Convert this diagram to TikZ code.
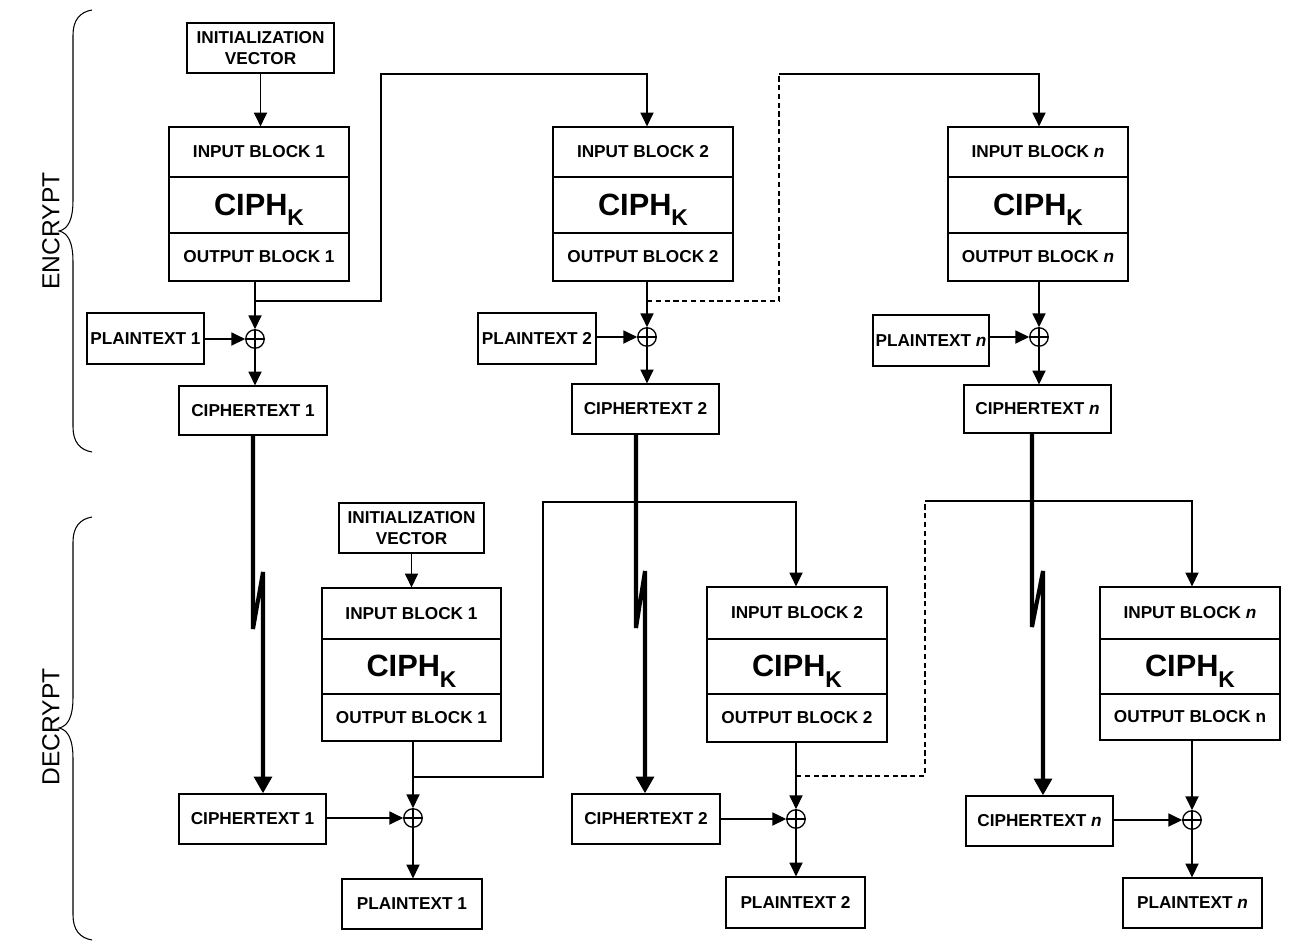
\documentclass[tikz,border=0pt]{standalone}
\usepackage{fontspec}
\setmainfont{Liberation Sans}
\usetikzlibrary{arrows.meta}
\newcommand\ciphk{CIPH\raisebox{-6pt}{\fontsize{13}{13}\selectfont K}}
\begin{document}
\begin{tikzpicture}[x=0.02cm,y=-0.02cm,
  box/.style={draw, line width=0.75pt, inner sep=0pt, align=center, font=\bfseries\fontsize{9.8}{11.8}\selectfont},
  ciph/.style={draw, line width=0.75pt, inner sep=0pt, text height=13pt, text depth=1.6pt, font=\bfseries\fontsize{17.5}{18}\selectfont},
  sz/.style 2 args={minimum width=#1*0.02cm, minimum height=#2*0.02cm},
  xorc/.style={circle, draw, line width=0.75pt, minimum size=0.37cm, inner sep=0pt,
    path picture={\draw[line width=0.75pt] (path picture bounding box.north) -- (path picture bounding box.south)
      (path picture bounding box.west) -- (path picture bounding box.east);}},
  arr/.style={line width=0.7pt, -{Triangle[length=7.8pt,width=7.5pt]}},
  ln/.style={line width=0.7pt},
  dln/.style={line width=0.7pt, dash pattern=on 3pt off 2pt},
  bigarr/.style={line width=2.3pt, -{Triangle[length=9.5pt,width=10pt]}},
  brace/.style={line width=0.6pt},
  side/.style={rotate=90, font=\fontsize{14}{16}\selectfont}
]
\useasboundingbox (0,0) rectangle (1295,950);

% ---------- side labels and braces ----------
\node[side] (enc) at (51,231) {ENCRYPT};
\node[side] (dec) at (51,727) {DECRYPT};
\draw[brace] (92,10) .. controls (80,12) and (73,20) .. (73,35) -- (73,200)
  .. controls (73,220) and (68,229) .. (59,231) .. controls (68,233) and (73,242) .. (73,262)
  -- (73,427) .. controls (73,442) and (80,450) .. (92,452);
\draw[brace] (92,517) .. controls (80,519) and (73,527) .. (73,542) -- (73,697)
  .. controls (73,717) and (68,726) .. (59,728) .. controls (68,730) and (73,739) .. (73,759)
  -- (73,915) .. controls (73,930) and (80,938) .. (92,940);

% ---------- ENCRYPT column 1 ----------
\node[box,sz={147}{50}] (ive) at (260.5,48) {INITIALIZATION\\VECTOR};
\node[box,sz={180}{50}] (ie1) at (259,152) {INPUT BLOCK 1};
\node[ciph,sz={180}{56}] (ce1) at (259,205) {\ciphk};
\node[box,sz={180}{48}] (oe1) at (259,257) {OUTPUT BLOCK 1};
\node[xorc] (xe1) at (255,339) {};
\node[box,sz={117}{51}] (pe1) at (145.5,338.5) {PLAINTEXT 1};
\node[box,sz={148}{49}] (cte1) at (253,410.5) {CIPHERTEXT 1};

% ---------- ENCRYPT column 2 ----------
\node[box,sz={180}{50}] (ie2) at (643,152) {INPUT BLOCK 2};
\node[ciph,sz={180}{56}] (ce2) at (643,205) {\ciphk};
\node[box,sz={180}{48}] (oe2) at (643,257) {OUTPUT BLOCK 2};
\node[xorc] (xe2) at (647,337) {};
\node[box,sz={118}{51}] (pe2) at (537,338.5) {PLAINTEXT 2};
\node[box,sz={147}{50}] (cte2) at (645.5,409) {CIPHERTEXT 2};

% ---------- ENCRYPT column n ----------
\node[box,sz={180}{50}] (ien) at (1038,152) {INPUT BLOCK \textit{n}};
\node[ciph,sz={180}{56}] (cen) at (1038,205) {\ciphk};
\node[box,sz={180}{48}] (oen) at (1038,257) {OUTPUT BLOCK \textit{n}};
\node[xorc] (xen) at (1039,337) {};
\node[box,sz={116}{51}] (pen) at (931,340.5) {PLAINTEXT \textit{n}};
\node[box,sz={147}{48}] (cten) at (1037.5,409) {CIPHERTEXT \textit{n}};

% ---------- DECRYPT column 1 ----------
\node[box,sz={145}{50}] (ivd) at (411.5,528) {INITIALIZATION\\VECTOR};
\node[box,sz={179}{51}] (id1) at (411.5,613.5) {INPUT BLOCK 1};
\node[ciph,sz={179}{55}] (cd1) at (411.5,666.5) {\ciphk};
\node[box,sz={179}{47}] (od1) at (411.5,717.5) {OUTPUT BLOCK 1};
\node[xorc] (xd1) at (413,818) {};
\node[box,sz={147}{50}] (ctd1) at (252.5,819) {CIPHERTEXT 1};
\node[box,sz={140}{50}] (pd1) at (412,904) {PLAINTEXT 1};

% ---------- DECRYPT column 2 ----------
\node[box,sz={180}{52}] (id2) at (797,613) {INPUT BLOCK 2};
\node[ciph,sz={180}{55}] (cd2) at (797,666.5) {\ciphk};
\node[box,sz={180}{48}] (od2) at (797,718) {OUTPUT BLOCK 2};
\node[xorc] (xd2) at (796,819) {};
\node[box,sz={148}{50}] (ctd2) at (646,819) {CIPHERTEXT 2};
\node[box,sz={139}{51}] (pd2) at (795.5,902.5) {PLAINTEXT 2};

% ---------- DECRYPT column n ----------
\node[box,sz={180}{52}] (idn) at (1190,613) {INPUT BLOCK \textit{n}};
\node[ciph,sz={180}{55}] (cdn) at (1190,666.5) {\ciphk};
\node[box,sz={180}{46}] (odn) at (1190,717) {OUTPUT BLOCK n};
\node[xorc] (xdn) at (1192,820) {};
\node[box,sz={147}{50}] (ctdn) at (1039.5,821) {CIPHERTEXT \textit{n}};
\node[box,sz={139}{50}] (pdn) at (1192.5,903) {PLAINTEXT \textit{n}};

% ---------- coordinates ----------
\coordinate (be1) at (255,301);
\coordinate (te1) at (381,74);
\coordinate (be2) at (647,301);
\coordinate (te2) at (779,74);
\coordinate (bd1) at (413,777);
\coordinate (td1) at (543,502);
\coordinate (bd2) at (796,776);
\coordinate (td2) at (925,501);
\coordinate (k1a) at (253,629);
\coordinate (k1b) at (263,572);
\coordinate (k2a) at (636,628);
\coordinate (k2b) at (645,571);
\coordinate (kna) at (1032,627);
\coordinate (knb) at (1043,571);

% ---------- ENCRYPT connectors ----------
\draw[arr] (ive.south) -- (ive.south |- ie1.north);
\draw[arr] (oe1.south -| xe1) -- (xe1);
\draw[arr] (pe1.east |- xe1) -- (xe1);
\draw[arr] (xe1) -- (xe1 |- cte1.north);
\draw[arr] (be1) -| (te1) -| (xe2 |- ie2.north);

\draw[arr] (oe2.south -| xe2) -- (xe2);
\draw[arr] (pe2.east |- xe2) -- (xe2);
\draw[arr] (xe2) -- (xe2 |- cte2.north);
\draw[dln] (be2) -| (te2);
\draw[arr] (te2) -| (xen |- ien.north);

\draw[arr] (oen.south -| xen) -- (xen);
\draw[arr] (pen.east |- xen) -- (xen);
\draw[arr] (xen) -- (xen |- cten.north);

% ---------- transmission (thick) ----------
\draw[bigarr] (cte1.south -| k1a) -- (k1a) -- (k1b) -- (ctd1.north -| k1b);
\draw[bigarr] (cte2.south -| k2a) -- (k2a) -- (k2b) -- (ctd2.north -| k2b);
\draw[bigarr] (cten.south -| kna) -- (kna) -- (knb) -- (ctdn.north -| knb);

% ---------- DECRYPT connectors ----------
\draw[arr] (ivd.south) -- (ivd.south |- id1.north);
\draw[arr] (od1.south -| xd1) -- (xd1);
\draw[arr] (ctd1.east |- xd1) -- (xd1);
\draw[arr] (xd1) -- (xd1 |- pd1.north);
\draw[arr] (bd1) -| (td1) -| (xd2 |- id2.north);

\draw[arr] (od2.south -| xd2) -- (xd2);
\draw[arr] (ctd2.east |- xd2) -- (xd2);
\draw[arr] (xd2) -- (xd2 |- pd2.north);
\draw[dln] (bd2) -| (td2);
\draw[arr] (td2) -| (xdn |- idn.north);

\draw[arr] (odn.south -| xdn) -- (xdn);
\draw[arr] (ctdn.east |- xdn) -- (xdn);
\draw[arr] (xdn) -- (xdn |- pdn.north);
\end{tikzpicture}
\end{document}
